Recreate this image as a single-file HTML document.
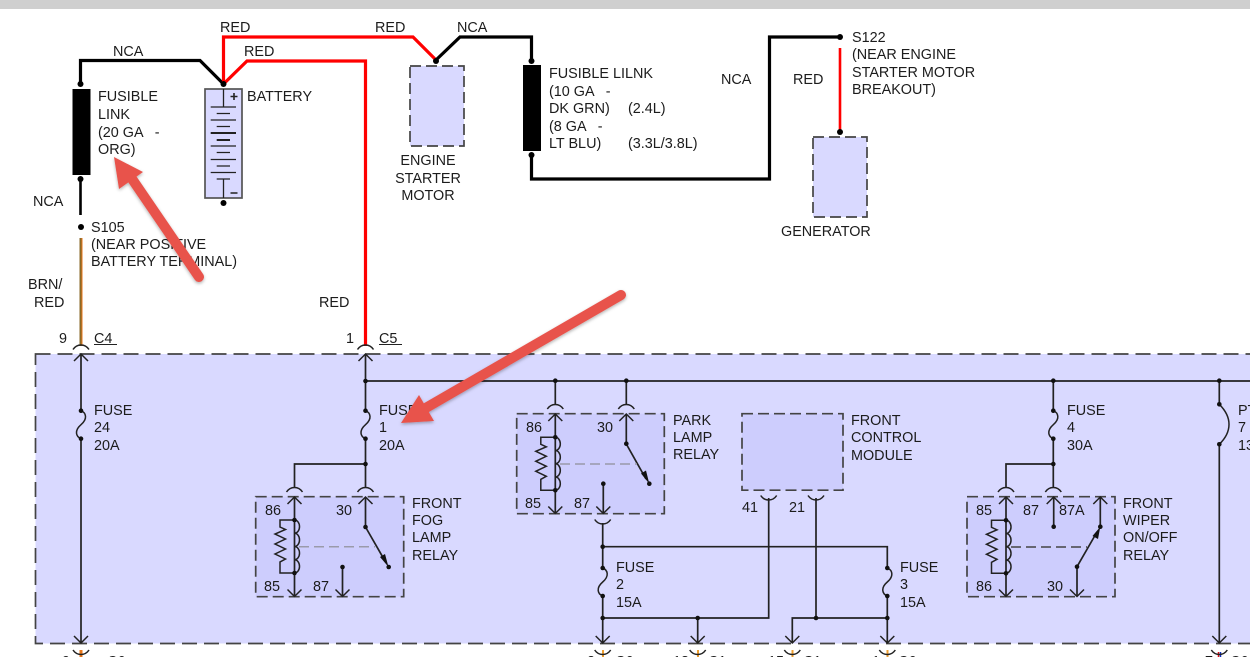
<!DOCTYPE html>
<html>
<head>
<meta charset="utf-8">
<style>
html,body{margin:0;padding:0;background:#fff;width:1250px;height:657px;overflow:hidden}
svg{display:block}
text{font-family:"Liberation Sans",Arial,sans-serif;font-size:14.4px;fill:#1c1c1c}
.w{fill:none;stroke:#222;stroke-width:1.7}
.k{fill:none;stroke:#000;stroke-width:3.2;stroke-linejoin:miter}
.r{fill:none;stroke:#f00;stroke-width:3.2;stroke-linejoin:miter}
.box{fill:#cdcdfd;stroke:#444;stroke-width:1.7;stroke-dasharray:11 5}
.comp{fill:#d9d9ff;stroke:#444;stroke-width:1.7;stroke-dasharray:11 5}
</style>
</head>
<body>
<svg xmlns="http://www.w3.org/2000/svg" width="1250" height="657" viewBox="0 0 1250 657">
<defs>
  <g id="at"><path d="M-8,4.5Q-5,0 0,0Q5,0 8,4.5" fill="none" stroke="#222" stroke-width="1.5"/></g>
  <g id="ab"><path d="M-8,-4.5Q-5,0 0,0Q5,0 8,-4.5" fill="none" stroke="#222" stroke-width="1.5"/></g>
  <g id="up"><path d="M-7,7L0,0L7,7" fill="none" stroke="#222" stroke-width="1.5"/></g>
  <g id="dn"><path d="M-7,-7L0,0L7,-7" fill="none" stroke="#222" stroke-width="1.5"/></g>
  <g id="fuse"><path d="M0,0C5,2 7,8 0,14C-7,20 -5,26 0,28" fill="none" stroke="#222" stroke-width="1.5"/><circle cx="0" cy="0" r="2.3" fill="#111"/><circle cx="0" cy="28" r="2.3" fill="#111"/></g>
  <g id="coil">
    <path d="M0,0A5,6.6 0 0 1 0,13.25A5,6.6 0 0 1 0,26.5A5,6.6 0 0 1 0,39.75A5,6.6 0 0 1 0,53" fill="none" stroke="#222" stroke-width="1.5"/>
    <path d="M0,0H-14.5V7L-9,9.5L-19.5,14L-9,19L-19.5,24L-9,29L-19.5,34L-9,39L-14.5,42V53H0" fill="none" stroke="#222" stroke-width="1.5"/>
    <circle cx="0" cy="0" r="2.3" fill="#111"/><circle cx="0" cy="53" r="2.3" fill="#111"/>
  </g>
  <filter id="sh" x="-20%" y="-20%" width="140%" height="140%"><feDropShadow dx="0" dy="1.5" stdDeviation="1.5" flood-color="#000" flood-opacity=".3"/></filter>
</defs>

<rect x="0" y="0" width="1250" height="9" fill="#cfcfcf"/>

<!-- main box -->
<rect x="35.5" y="354" width="1300" height="289.5" fill="#d9d9ff" stroke="#444" stroke-width="1.7" stroke-dasharray="15 7"/>

<!-- top wiring -->
<path class="k" d="M80.5,84V60.5H200L223.5,84"/>
<path class="r" d="M223.5,84V37H413L436,60"/>
<path class="r" d="M223.5,84L247,61H365.5V346"/>
<path class="k" d="M436,60L460,37H531.5V61"/>
<path class="k" d="M531.5,155V179H769.5V37H838"/>
<path class="r" d="M840,48V132" style="stroke-width:2.6"/>
<path class="k" d="M80.5,179V215" style="stroke-width:2.6"/>
<path d="M81,238V346" fill="none" stroke="#8a6a2a" stroke-width="3"/>
<path d="M82,238V346" fill="none" stroke="#e8761a" stroke-width="1"/>

<g fill="#000">
<circle cx="80.5" cy="84" r="3"/><circle cx="80.5" cy="179" r="3"/><circle cx="81" cy="227" r="3"/>
<circle cx="223.5" cy="84" r="3"/><circle cx="223.5" cy="203" r="3"/>
<circle cx="436" cy="61" r="3"/><circle cx="531.5" cy="61" r="3"/><circle cx="531.5" cy="155" r="3"/>
<circle cx="840" cy="37" r="3"/><circle cx="840" cy="132" r="3"/>
</g>

<rect x="72.5" y="89" width="18" height="86" fill="#000"/>
<rect x="523" y="65" width="18" height="86" fill="#000"/>

<!-- battery -->
<rect x="205" y="89" width="37" height="109" fill="#d9d9ff" stroke="#555" stroke-width="1.7"/>
<g stroke="#222" stroke-width="1.3" fill="none">
<path d="M223.5,89V107M210.7,107H236M216.7,113.5H230M210.7,120H236M216.7,126.5H230M216.7,152.5H230M210.7,146H236M210.7,159.5H236M216.7,166H230M210.7,172.5H236M216.7,179H230M223.5,179V198"/>
<path d="M210.7,133H236M216.7,140H230" stroke-width="2"/>
<path d="M230.5,96.5H237.5M234,93V100M230.5,193H237.5" stroke-width="1.6"/>
</g>

<rect class="comp" x="410" y="66" width="54" height="80"/>
<rect class="comp" x="813" y="137" width="54" height="80"/>

<!-- C4/C5 connectors -->
<use href="#at" x="81" y="345"/><use href="#at" x="365.5" y="345"/>
<use href="#up" x="81" y="354"/><use href="#up" x="365.5" y="354"/>

<!-- inner relay boxes -->
<rect class="box" x="255.7" y="496.7" width="148" height="100"/>
<rect class="box" x="516.7" y="413.7" width="147.6" height="100"/>
<rect class="box" x="742" y="413.7" width="101" height="76.5"/>
<rect class="box" x="967" y="496.7" width="148" height="100"/>

<!-- bus and fuses -->
<path class="w" d="M365.5,354V411M365.5,438V487M365.5,381H1250M294.5,487V464H365.5M294.5,497V596M365.5,497V527"/>
<path class="w" d="M81,354V411M81,438V643"/>
<use href="#fuse" x="81" y="410.7"/><use href="#fuse" x="365.5" y="410.7"/>

<!-- fog relay -->
<use href="#at" x="294.5" y="487.5"/><use href="#at" x="365.5" y="487.5"/>
<use href="#up" x="294.5" y="497"/><use href="#up" x="365.5" y="497"/>
<use href="#coil" x="294.5" y="520"/>
<use href="#dn" x="294.5" y="596.5"/><use href="#dn" x="342.5" y="596.5"/>
<path d="M299,546.7H375" fill="none" stroke="#9a9aaa" stroke-width="1.5" stroke-dasharray="10 5"/>
<path class="w" d="M365.5,527L386,562.7M342.5,567V596"/>
<polygon points="388.5,567 380,557 385,554" fill="#111"/>

<!-- park relay -->
<path class="w" d="M555.3,381V404M626.3,381V404M555.3,414V513M626.3,414V444M626.3,444L646,479M603.3,484V513M602.7,523V643M602.7,546.7H887.3V643M602.7,618H768.7V498M816,498V618M792.3,643V618H887.3M697.7,618V643"/>
<use href="#at" x="555.3" y="404.5"/><use href="#at" x="626.3" y="404.5"/>
<use href="#up" x="555.3" y="414"/><use href="#up" x="626.3" y="414"/>
<use href="#coil" x="555.3" y="437.3"/>
<use href="#dn" x="555.3" y="513.5"/><use href="#dn" x="603.3" y="513.5"/>
<use href="#ab" x="602.7" y="524"/>
<path d="M560,464H637" fill="none" stroke="#9a9aaa" stroke-width="1.5" stroke-dasharray="10 5"/>
<polygon points="649.3,483.7 641,473.5 646,470.5" fill="#111"/>
<use href="#ab" x="768.7" y="500"/><use href="#ab" x="816" y="500"/>
<rect x="598" y="569" width="9" height="27" fill="#d9d9ff"/>
<rect x="883" y="569" width="9" height="27" fill="#d9d9ff"/>
<use href="#fuse" x="602.7" y="568"/><use href="#fuse" x="887.3" y="568"/>

<!-- wiper relay -->
<path class="w" d="M1053.3,381V411M1053.3,438V487M1006,487V464H1053.3M1006,497V596M1053.7,497V526.7M1100.3,497V526.7M1077,566.7V596M1077,566.7L1097,532"/>
<rect x="1048" y="412" width="10" height="26" fill="#d9d9ff"/>
<use href="#fuse" x="1053.3" y="410.7"/>
<use href="#at" x="1006" y="487.5"/><use href="#at" x="1053.3" y="487.5"/>
<use href="#up" x="1006" y="497"/><use href="#up" x="1053.7" y="497"/><use href="#up" x="1100.3" y="497"/>
<use href="#coil" x="1006" y="520.3"/>
<use href="#dn" x="1006" y="596.5"/><use href="#dn" x="1077" y="596.5"/>
<path d="M1011,547H1087" fill="none" stroke="#444" stroke-width="1.5" stroke-dasharray="10 5"/>
<polygon points="1100.3,526.7 1098,539 1092.5,536" fill="#111"/>

<!-- PTC -->
<path class="w" d="M1219.3,381V404M1219.3,444V643"/>
<path d="M1219.3,404.3Q1229,414 1229,424.3Q1229,435 1219.3,444.3" fill="none" stroke="#222" stroke-width="1.5"/>

<!-- dots -->
<g fill="#111">
<circle cx="365.5" cy="381" r="2.3"/><circle cx="365.5" cy="464" r="2.3"/>
<circle cx="555.3" cy="380.7" r="2.3"/><circle cx="626.3" cy="380.7" r="2.3"/>
<circle cx="1053.3" cy="380.7" r="2.3"/><circle cx="1219.3" cy="380.7" r="2.3"/>
<circle cx="1053.3" cy="464" r="2.3"/>
<circle cx="1219.3" cy="404.3" r="2.3"/><circle cx="1219.3" cy="444.3" r="2.3"/>
<circle cx="365.5" cy="527" r="2.3"/><circle cx="388.7" cy="567" r="2.3"/><circle cx="342.5" cy="567" r="2.3"/>
<circle cx="626.3" cy="443.7" r="2.3"/><circle cx="649.3" cy="483.7" r="2.3"/><circle cx="603.3" cy="483.7" r="2.3"/>
<circle cx="602.7" cy="546.7" r="2.3"/><circle cx="602.7" cy="618" r="2.3"/><circle cx="697.7" cy="618" r="2.3"/>
<circle cx="816" cy="618" r="2.3"/><circle cx="887.3" cy="618" r="2.3"/>
<circle cx="1053.7" cy="526.7" r="2.3"/><circle cx="1100.3" cy="526.7" r="2.3"/><circle cx="1077" cy="566.7" r="2.3"/>
</g>

<!-- bottom connectors -->
<use href="#dn" x="81" y="643"/><use href="#dn" x="602.7" y="643"/><use href="#dn" x="697.7" y="643"/>
<use href="#dn" x="792.3" y="643"/><use href="#dn" x="887.3" y="643"/><use href="#dn" x="1219.3" y="643"/>
<path d="M81,650V657" stroke="#e8761a" stroke-width="3" fill="none"/>
<path d="M603,650V657M698,650V657M792.5,650V657M887.5,650V657" stroke="#f0a030" stroke-width="2" fill="none"/>
<path d="M1218.5,652V657" stroke="#e01010" stroke-width="1.5" fill="none"/><path d="M1220.5,652V657" stroke="#1030c0" stroke-width="1.5" fill="none"/>
<use href="#ab" x="81" y="654.5"/><use href="#ab" x="602.7" y="654.5"/><use href="#ab" x="697.7" y="654.5"/>
<use href="#ab" x="792.3" y="654.5"/><use href="#ab" x="887.3" y="654.5"/><use href="#ab" x="1219.3" y="654.5"/>

<!-- labels -->
<text x="113" y="56">NCA</text>
<text x="220" y="32">RED</text>
<text x="375" y="32">RED</text>
<text x="244" y="56">RED</text>
<text x="457" y="32">NCA</text>
<text x="98" y="101">FUSIBLE</text>
<text x="98" y="119">LINK</text>
<text x="98" y="137" xml:space="preserve">(20 GA   -</text>
<text x="98" y="154">ORG)</text>
<text x="247" y="101">BATTERY</text>
<text x="33" y="206">NCA</text>
<text x="91" y="232">S105</text>
<text x="91" y="249">(NEAR POSITIVE</text>
<text x="91" y="266">BATTERY TERMINAL)</text>
<text x="28" y="289">BRN/</text>
<text x="34" y="307">RED</text>
<text x="319" y="307">RED</text>
<text x="59" y="343">9</text>
<text x="94" y="343">C4</text>
<path d="M94,344.5H117M379,344.5H402" stroke="#222" stroke-width="1"/>
<text x="346" y="343">1</text>
<text x="379" y="343">C5</text>
<text x="428" y="165" text-anchor="middle">ENGINE</text>
<text x="428" y="183" text-anchor="middle">STARTER</text>
<text x="428" y="200" text-anchor="middle">MOTOR</text>
<text x="549" y="78">FUSIBLE LILNK</text>
<text x="549" y="96" xml:space="preserve">(10 GA   -</text>
<text x="549" y="113">DK GRN)</text>
<text x="628" y="113">(2.4L)</text>
<text x="549" y="131" xml:space="preserve">(8 GA   -</text>
<text x="549" y="148">LT BLU)</text>
<text x="628" y="148">(3.3L/3.8L)</text>
<text x="721" y="84">NCA</text>
<text x="793" y="84">RED</text>
<text x="852" y="42">S122</text>
<text x="852" y="59">(NEAR ENGINE</text>
<text x="852" y="77">STARTER MOTOR</text>
<text x="852" y="94">BREAKOUT)</text>
<text x="781" y="236">GENERATOR</text>

<text x="94" y="415">FUSE</text><text x="94" y="432">24</text><text x="94" y="450">20A</text>
<text x="379" y="415">FUSE</text><text x="379" y="432">1</text><text x="379" y="450">20A</text>
<text x="412" y="508">FRONT</text><text x="412" y="525">FOG</text><text x="412" y="542">LAMP</text><text x="412" y="560">RELAY</text>
<text x="265" y="515">86</text><text x="336" y="515">30</text><text x="264" y="591">85</text><text x="313" y="591">87</text>
<text x="673" y="425">PARK</text><text x="673" y="442">LAMP</text><text x="673" y="459">RELAY</text>
<text x="526" y="432">86</text><text x="597" y="432">30</text><text x="525" y="508">85</text><text x="574" y="508">87</text>
<text x="851" y="425">FRONT</text><text x="851" y="442">CONTROL</text><text x="851" y="460">MODULE</text>
<text x="742" y="512">41</text><text x="789" y="512">21</text>
<text x="616" y="572">FUSE</text><text x="616" y="589">2</text><text x="616" y="607">15A</text>
<text x="900" y="572">FUSE</text><text x="900" y="589">3</text><text x="900" y="607">15A</text>
<text x="1067" y="415">FUSE</text><text x="1067" y="432">4</text><text x="1067" y="450">30A</text>
<text x="1123" y="508">FRONT</text><text x="1123" y="525">WIPER</text><text x="1123" y="542">ON/OFF</text><text x="1123" y="560">RELAY</text>
<text x="976" y="515">85</text><text x="1023" y="515">87</text><text x="1059" y="515">87A</text><text x="976" y="591">86</text><text x="1047" y="591">30</text>
<text x="1238" y="415">PTC</text><text x="1238" y="432">7</text><text x="1238" y="450">13.5A</text>

<text x="62" y="666">9</text><text x="107" y="666">C6</text>
<text x="587" y="666">2</text><text x="615" y="666">C6</text>
<text x="673" y="666">13</text><text x="708" y="666">C1</text>
<text x="768" y="666">15</text><text x="803" y="666">C1</text>
<text x="872" y="666">1</text><text x="898" y="666">C6</text>
<text x="1205" y="666">7</text><text x="1230" y="666">C6</text>

<!-- annotation arrows -->
<g filter="url(#sh)">
  <path d="M199,277L128,173" stroke="#e8534b" stroke-width="10" stroke-linecap="round" fill="none"/>
  <polygon points="114,157 143,172 119,189" fill="#e8534b"/>
  <path d="M621,295L424,409" stroke="#e8534b" stroke-width="10" stroke-linecap="round" fill="none"/>
  <polygon points="401,423 419,395 434,421" fill="#e8534b"/>
</g>
</svg>
</body>
</html>
